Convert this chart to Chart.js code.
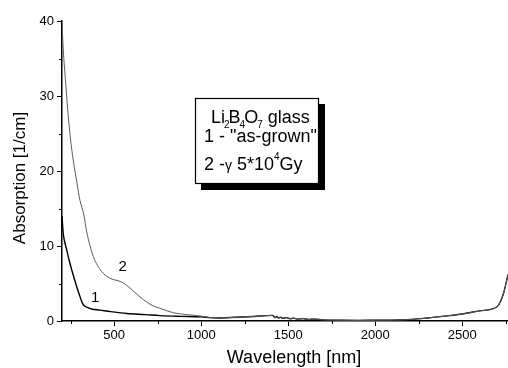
<!DOCTYPE html>
<html>
<head>
<meta charset="utf-8">
<script src="https://cdn.jsdelivr.net/npm/chart.js@4"></script>
<style>
  html, body { margin: 0; padding: 0; background: #fff; }
  #wrap { width: 508px; height: 368px; position: relative; }
</style>
</head>
<body>
<div id="wrap"><canvas id="absorptionGraph"></canvas></div>
<script>
// curve 1 - "as-grown" (UV edge part)
const nmAsGrown = [200, 207, 215, 227, 240, 256, 270, 284, 300, 313, 325, 342, 370, 418, 480, 572, 680, 763, 880, 1000];
const absAsGrown = [14.0, 11.7, 10.6, 9.5, 8.2, 6.8, 5.7, 4.6, 3.5, 2.6, 2.1, 1.85, 1.6, 1.45, 1.25, 1.0, 0.85, 0.72, 0.62, 0.55];

// curve 2 - gamma 5*10^4 Gy (UV edge part)
const nmIrradiated = [200, 207, 221, 236, 256, 286, 303, 326, 342, 380, 428, 476, 543, 591, 648, 725, 763, 840, 920, 1000];
const absIrradiated = [39.8, 36.3, 31.8, 27.3, 22.9, 18.4, 16.1, 14.1, 11.9, 8.6, 6.6, 5.7, 5.2, 4.4, 3.2, 2.0, 1.7, 1.1, 0.85, 0.65];

// IR part, both curves nearly the same here
const nmTail = [1050, 1100, 1200, 1300, 1410, 1425, 1435, 1445, 1455, 1470, 1490, 1510, 1530, 1555, 1585, 1615, 1650, 1700, 1800, 1900, 2000, 2100, 2200, 2300, 2400, 2500, 2600, 2700, 2720, 2740, 2763];
const absTail = [0.45, 0.4, 0.5, 0.6, 0.75, 0.45, 0.6, 0.4, 0.5, 0.35, 0.45, 0.3, 0.38, 0.25, 0.32, 0.2, 0.25, 0.15, 0.1, 0.08, 0.1, 0.12, 0.2, 0.4, 0.65, 0.93, 1.35, 1.9, 2.6, 3.9, 6.2];

// axis ticks
const xTickValues = [500, 1000, 1500, 2000, 2500];
const yTickValues = [0, 10, 20, 30, 40];
const xMinorTicks = [250, 750, 1250, 1750, 2250, 2750];
const yMinorTicks = [5, 15, 25, 35];

const FONT = 'Arial, "Liberation Sans", sans-serif';

function to_points(xs, ys) {
    return xs.map((x, i) => ({ x: x, y: ys[i] }));
}

// draws minor ticks, axis titles, curve labels and the text box
const decorations = {
    id: 'decorations',
    afterDraw(chart) {
        const ctx = chart.ctx;
        const xs = chart.scales.x;
        const ys = chart.scales.y;
        const area = chart.chartArea;
        ctx.save();

        // minor ticks
        ctx.strokeStyle = '#000';
        ctx.lineWidth = 1;
        ctx.beginPath();
        xMinorTicks.forEach(v => {
            const px = Math.round(xs.getPixelForValue(v)) + 0.5;
            ctx.moveTo(px, area.bottom);
            ctx.lineTo(px, area.bottom + 3);
        });
        yMinorTicks.forEach(v => {
            const py = Math.round(ys.getPixelForValue(v)) + 0.5;
            ctx.moveTo(area.left, py);
            ctx.lineTo(area.left - 3, py);
        });
        ctx.stroke();

        // axis titles
        ctx.fillStyle = '#000';
        ctx.textBaseline = 'alphabetic';
        ctx.textAlign = 'center';
        ctx.font = `18px ${FONT}`;
        ctx.fillText('Wavelength [nm]', 294, 363);
        ctx.save();
        ctx.translate(25, 178);
        ctx.rotate(-Math.PI / 2);
        ctx.font = `17px ${FONT}`;
        ctx.fillText('Absorption [1/cm]', 0, 0);
        ctx.restore();

        // curve labels
        ctx.font = `15px ${FONT}`;
        ctx.fillText('1', xs.getPixelForValue(390), ys.getPixelForValue(2.57));
        ctx.fillText('2', xs.getPixelForValue(548), ys.getPixelForValue(6.7));

        // text box with shadow
        const bx = 195, by = 98, bw = 124, bh = 86;
        ctx.fillStyle = '#000';
        ctx.fillRect(bx + 6, by + 6, bw, bh);
        ctx.fillStyle = '#fff';
        ctx.fillRect(bx, by, bw, bh);
        ctx.strokeStyle = '#000';
        ctx.lineWidth = 1.2;
        ctx.strokeRect(bx + 0.5, by + 0.5, bw - 1, bh - 1);

        ctx.fillStyle = '#000';
        ctx.textAlign = 'left';
        const pieces = (x, y, parts) => {
            parts.forEach(p => {
                ctx.font = `${p.size}px ${FONT}`;
                ctx.fillText(p.t, x, y + (p.dy || 0));
                x += ctx.measureText(p.t).width + (p.kern || 0);
            });
        };
        pieces(211, 123, [
            { t: 'Li', size: 18, kern: -1 },
            { t: '2', size: 10, dy: 5, kern: -1 },
            { t: 'B', size: 18, kern: -1 },
            { t: '4', size: 10, dy: 5, kern: -1 },
            { t: 'O', size: 18, kern: -1 },
            { t: '7', size: 10, dy: 5 },
            { t: ' glass', size: 18 }
        ]);
        pieces(204, 142, [{ t: '1 - "as-grown"', size: 18 }]);
        pieces(204, 170, [
            { t: '2 -', size: 18 },
            { t: 'γ', size: 14 },
            { t: ' 5*10', size: 18 },
            { t: '4', size: 10, dy: -10 },
            { t: 'Gy', size: 18 }
        ]);
        ctx.restore();
    }
};

function create_absorption_graph() {
    const config = {
        type: 'line',
        data: {
            datasets: [
                {
                    label: '2 - gamma 5*10^4 Gy',
                    data: to_points(nmIrradiated.concat(nmTail), absIrradiated.concat(absTail)),
                    borderColor: '#5a5a5a',
                    borderWidth: 1,
                    pointRadius: 0,
                    cubicInterpolationMode: 'monotone'
                },
                {
                    label: '1 - as-grown',
                    data: to_points(nmAsGrown.concat(nmTail), absAsGrown.concat(absTail)),
                    borderColor: '#000',
                    borderWidth: 1.4,
                    pointRadius: 0,
                    cubicInterpolationMode: 'monotone'
                }
            ]
        },
        options: {
            animation: false,
            responsive: true,
            maintainAspectRatio: false,
            devicePixelRatio: 1,
            layout: { padding: { top: 21, right: 0, left: 0, bottom: 0 } },
            plugins: {
                legend: { display: false },
                tooltip: { enabled: false }
            },
            scales: {
                x: {
                    type: 'linear',
                    min: 200,
                    max: 2763,
                    afterBuildTicks: (scale) => { scale.ticks = xTickValues.map(v => ({ value: v })); },
                    afterFit: (scale) => { scale.height = 47; },
                    border: { display: true, color: '#000', width: 1.5 },
                    grid: { drawOnChartArea: false, drawTicks: true, tickLength: 5, tickColor: '#000', tickWidth: 1 },
                    ticks: {
                        autoSkip: false,
                        maxRotation: 0,
                        padding: 2,
                        color: '#000',
                        font: { family: FONT, size: 13 },
                        callback: (val) => String(val)
                    }
                },
                y: {
                    min: 0,
                    max: 40,
                    afterBuildTicks: (scale) => { scale.ticks = yTickValues.map(v => ({ value: v })); },
                    afterFit: (scale) => { scale.width = 62; },
                    border: { display: true, color: '#000', width: 1.5 },
                    grid: { drawOnChartArea: false, drawTicks: true, tickLength: 5, tickColor: '#000', tickWidth: 1 },
                    ticks: {
                        padding: 3,
                        color: '#000',
                        font: { family: FONT, size: 13 },
                        callback: (val) => String(val)
                    }
                }
            }
        },
        plugins: [decorations]
    };
    return new Chart('absorptionGraph', config);
}

create_absorption_graph();
</script>
</body>
</html>
